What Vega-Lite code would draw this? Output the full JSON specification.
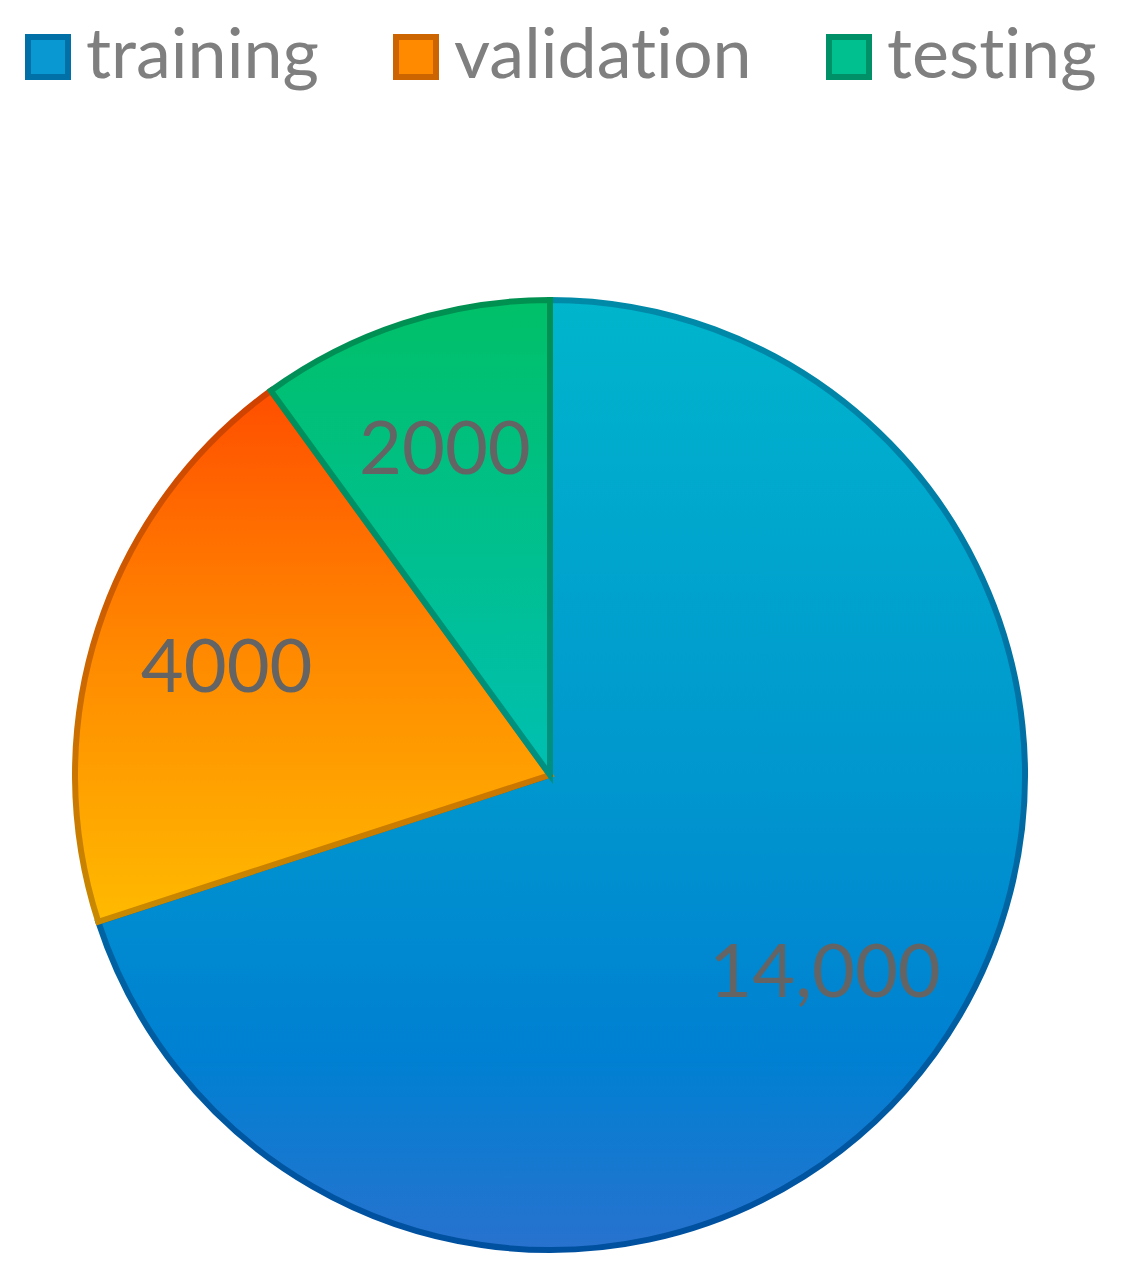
{
  "$schema": "https://vega.github.io/schema/vega-lite/v6.json",
  "autosize": {"type": "none"},
  "width": 950,
  "height": 950,
  "padding": {"left": 75, "top": 300, "right": 99, "bottom": 22},
  "background": "white",
  "config": {"view": {"stroke": null}},
  "data": {
    "values": [
      {"set": "training", "count": 14000, "label": "14,000", "idx": 1},
      {"set": "validation", "count": 4000, "label": "4000", "idx": 2},
      {"set": "testing", "count": 2000, "label": "2000", "idx": 3}
    ]
  },
  "encoding": {
    "theta": {"field": "count", "type": "quantitative", "stack": true},
    "order": {"field": "idx", "type": "quantitative"}
  },
  "layer": [
    {
      "mark": {"type": "arc", "strokeWidth": 6},
      "encoding": {
        "fill": {
          "field": "set",
          "type": "nominal",
          "condition": [
            {"test": "datum.set === 'training'", "value": {"gradient": "linear", "x1": 0, "y1": 0, "x2": 0, "y2": 1, "stops": [
                {"offset": 0, "color": "#00B5CC"},
                {"offset": 0.5, "color": "#0097CE"},
                {"offset": 0.8, "color": "#0080D2"},
                {"offset": 1, "color": "#2872CE"}
              ]}},
            {"test": "datum.set === 'validation'", "value": {"gradient": "linear", "x1": 0, "y1": 0, "x2": 0, "y2": 1, "stops": [
                {"offset": 0, "color": "#FF4E00"},
                {"offset": 0.5, "color": "#FF8A00"},
                {"offset": 1, "color": "#FFBA00"}
              ]}},
            {"test": "datum.set === 'testing'", "value": {"gradient": "linear", "x1": 0, "y1": 0, "x2": 0, "y2": 1, "stops": [
                {"offset": 0, "color": "#00C068"},
                {"offset": 1, "color": "#00BFB2"}
              ]}}
          ],
          "scale": {
            "domain": ["training", "validation", "testing"],
            "range": ["#0A98D2", "#FF8A00", "#00C090"]
          },
          "legend": {
            "title": null,
            "orient": "none",
            "legendX": -62,
            "legendY": -278,
            "direction": "horizontal",
            "symbolType": "square",
            "symbolSize": 1600,
            "symbolStrokeWidth": 6,
            "symbolOpacity": 1,
            "labelFont": "Lato",
            "labelFontSize": 70,
            "labelColor": "#7F7F7F",
            "labelOffset": 3,
            "columnPadding": 62,
            "labelLimit": 0,
            "labelExpr": "replace(datum.label, 'ti', 't\u200ci')"
          }
        },
        "stroke": {
          "field": "set",
          "type": "nominal",
          "condition": [
            {"test": "datum.set === 'training'", "value": {"gradient": "linear", "x1": 0, "y1": 0, "x2": 0, "y2": 1, "stops": [
                {"offset": 0, "color": "#008AA8"},
                {"offset": 1, "color": "#0050A0"}
              ]}},
            {"test": "datum.set === 'validation'", "value": {"gradient": "linear", "x1": 0, "y1": 0, "x2": 0, "y2": 1, "stops": [
                {"offset": 0, "color": "#D04000"},
                {"offset": 1, "color": "#C88A00"}
              ]}},
            {"test": "datum.set === 'testing'", "value": {"gradient": "linear", "x1": 0, "y1": 0, "x2": 0, "y2": 1, "stops": [
                {"offset": 0, "color": "#009050"},
                {"offset": 1, "color": "#009082"}
              ]}}
          ],
          "scale": {
            "domain": ["training", "validation", "testing"],
            "range": ["#0070A6", "#CC6400", "#009068"]
          },
          "legend": {
            "title": null,
            "orient": "none",
            "legendX": -62,
            "legendY": -278,
            "direction": "horizontal",
            "symbolType": "square",
            "symbolSize": 1600,
            "symbolStrokeWidth": 6,
            "symbolOpacity": 1,
            "labelFont": "Lato",
            "labelFontSize": 70,
            "labelColor": "#7F7F7F",
            "labelOffset": 3,
            "columnPadding": 62,
            "labelLimit": 0,
            "labelExpr": "replace(datum.label, 'ti', 't\u200ci')"
          }
        }
      }
    },
    {
      "mark": {"type": "text", "radius": 340, "font": "Lato", "fontSize": 74, "fill": "#646464"},
      "encoding": {
        "text": {"field": "label", "type": "nominal"}
      }
    }
  ]
}
